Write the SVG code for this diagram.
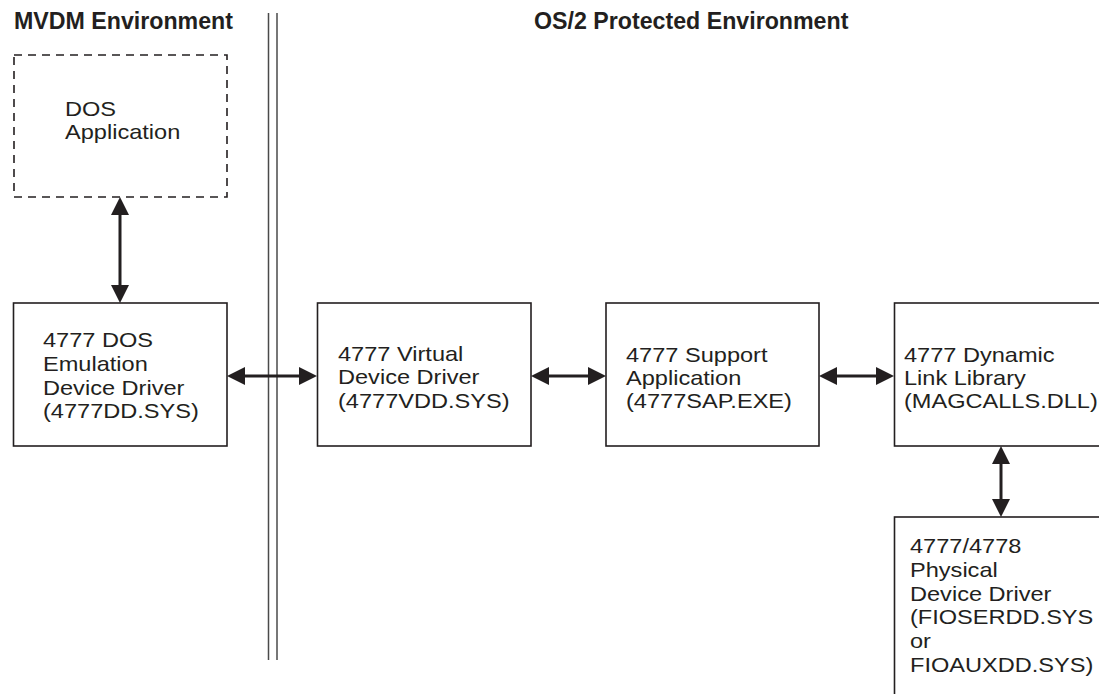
<svg xmlns="http://www.w3.org/2000/svg" width="1099" height="694" viewBox="0 0 1099 694">
<defs>
<style>
.t{font-family:"Liberation Sans",Arial,sans-serif;font-size:20.5px;fill:#231f20}
.h{font-family:"Liberation Sans",Arial,sans-serif;font-size:23.2px;font-weight:bold;fill:#231f20}
.box{fill:#fff;stroke:#231f20;stroke-width:1.6}
.dash{fill:#fff;stroke:#231f20;stroke-width:1.6;stroke-dasharray:8,6}
.sep{stroke:#4a4a4a;stroke-width:1.5}
.arr{stroke:#231f20;stroke-width:3;fill:none;marker-start:url(#ah);marker-end:url(#ah)}
</style>
<marker id="ah" markerUnits="userSpaceOnUse" markerWidth="18" markerHeight="18" refX="8" refY="9" orient="auto-start-reverse">
<path d="M0,0 L18,9 L0,18 z" fill="#231f20"/>
</marker>
</defs>
<rect width="1099" height="694" fill="#fff"/>
<g id="headers">
<text class="h" x="14" y="29">MVDM Environment</text>
<text class="h" x="534" y="29">OS/2 Protected Environment</text>
</g>
<g id="separator">
<line class="sep" x1="268.5" y1="13" x2="268.5" y2="660"/>
<line class="sep" x1="277" y1="13" x2="277" y2="660"/>
</g>
<g id="dos-app">
<rect class="dash" x="14" y="55" width="213" height="142"/>
<g transform="translate(65,0) scale(1.15,1)">
<text class="t" x="0" y="116">DOS</text>
<text class="t" x="0" y="139">Application</text>
</g>
</g>
<g id="dos-emulation">
<rect class="box" x="13.5" y="303" width="213.5" height="143"/>
<g transform="translate(43,0) scale(1.15,1)">
<text class="t" x="0" y="347">4777 DOS</text>
<text class="t" x="0" y="371">Emulation</text>
<text class="t" x="0" y="395">Device Driver</text>
<text class="t" x="0" y="418">(4777DD.SYS)</text>
</g>
</g>
<g id="vdd">
<rect class="box" x="317.5" y="303" width="213.5" height="143"/>
<g transform="translate(338,0) scale(1.15,1)">
<text class="t" x="0" y="361">4777 Virtual</text>
<text class="t" x="0" y="384">Device Driver</text>
<text class="t" x="0" y="408">(4777VDD.SYS)</text>
</g>
</g>
<g id="sap">
<rect class="box" x="606" y="303" width="213" height="143"/>
<g transform="translate(626,0) scale(1.15,1)">
<text class="t" x="0" y="362">4777 Support</text>
<text class="t" x="0" y="385">Application</text>
<text class="t" x="0" y="408">(4777SAP.EXE)</text>
</g>
</g>
<g id="dll">
<rect class="box" x="894.5" y="303" width="220" height="143"/>
<g transform="translate(904,0) scale(1.15,1)">
<text class="t" x="0" y="362">4777 Dynamic</text>
<text class="t" x="0" y="385">Link Library</text>
<text class="t" x="0" y="408">(MAGCALLS.DLL)</text>
</g>
</g>
<g id="pdd">
<rect class="box" x="894.5" y="517" width="220" height="200"/>
<g transform="translate(910,0) scale(1.15,1)">
<text class="t" x="0" y="553">4777/4778</text>
<text class="t" x="0" y="577">Physical</text>
<text class="t" x="0" y="601">Device Driver</text>
<text class="t" x="0" y="624">(FIOSERDD.SYS</text>
<text class="t" x="0" y="648">or</text>
<text class="t" x="0" y="672">FIOAUXDD.SYS)</text>
</g>
</g>
<g id="connectors">
<line class="arr" x1="120" y1="207" x2="120" y2="293"/>
<line class="arr" x1="237" y1="376" x2="307" y2="376"/>
<line class="arr" x1="541" y1="376" x2="596" y2="376"/>
<line class="arr" x1="829" y1="376" x2="884" y2="376"/>
<line class="arr" x1="1001" y1="456" x2="1001" y2="507"/>
</g>
</svg>
